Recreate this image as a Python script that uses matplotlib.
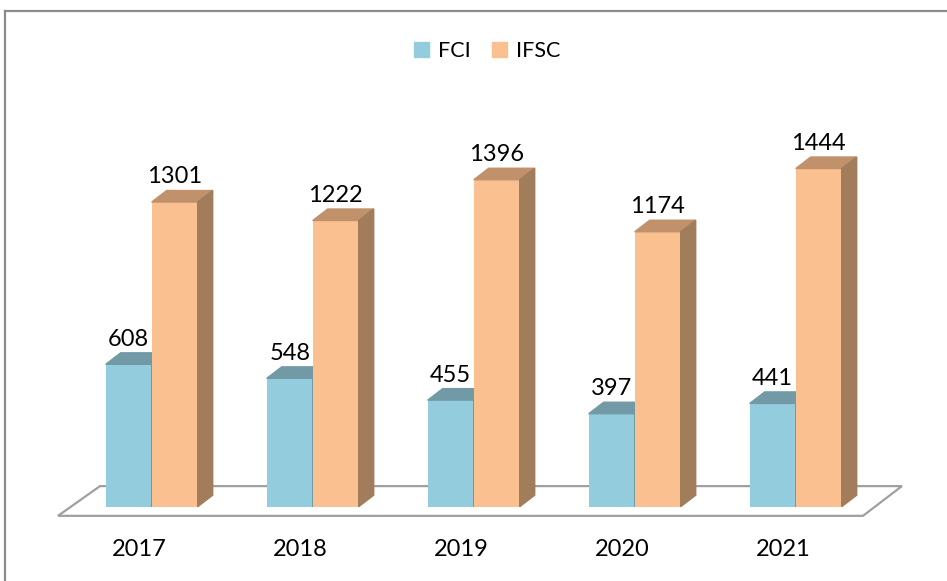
import matplotlib.pyplot as plt
from matplotlib.patches import Polygon, Patch
from matplotlib.lines import Line2D
import numpy as np

years = ["2017", "2018", "2019", "2020", "2021"]
fci = [608, 548, 455, 397, 441]
ifsc = [1301, 1222, 1396, 1174, 1444]

FCI_FRONT, FCI_TOP = "#93CDDD", "#729AA6"
IFSC_FRONT, IFSC_TOP, IFSC_SIDE = "#FAC090", "#C0916B", "#A27D5C"
EDGE = "#A0A0A0"

plt.rcParams["font.family"] = ["Lato", "DejaVu Sans"]

W, H = 947, 581
fig = plt.figure(figsize=(W / 100, H / 100), dpi=100)
ax = fig.add_axes([0, 0, 1, 1])

px_x = 161.0          # px per category
px_y = 0.2342         # px per unit value
x0_px, base_px = 151.7, 506.7
ax.set_xlim(-x0_px / px_x, (W - x0_px) / px_x)
ax.set_ylim(-(H - base_px) / px_y, base_px / px_y)
ax.axis("off")

bw = 46 / px_x        # bar width
ddx = 15 / px_x       # depth offset
ddy = 11.5 / px_y

# floor
fx = [-0.582, 4.418, 4.660, -0.321]
fy = [-39, -39, 88, 88]
ax.add_patch(Polygon(list(zip(fx, fy)), closed=True, facecolor="white",
                     edgecolor=EDGE, lw=1.6, zorder=1))

x = np.arange(len(years))


def bar3d(left, val, front, top, side, z):
    ax.bar(left, val, width=bw, align="edge", color=front, zorder=z)
    r = left + bw
    ax.add_patch(Polygon([(left, val), (r, val), (r + ddx, val + ddy),
                          (left + ddx, val + ddy)], color=top, zorder=z))
    ax.add_patch(Polygon([(r, 0), (r, val), (r + ddx, val + ddy),
                          (r + ddx, ddy)], color=side, zorder=z))


for i in x:
    bar3d(i - bw, fci[i], FCI_FRONT, FCI_TOP, FCI_TOP, 2)
    bar3d(i, ifsc[i], IFSC_FRONT, IFSC_TOP, IFSC_SIDE, 3)
    ax.text(i - bw / 2, fci[i] + ddy + 30, str(fci[i]), ha="center",
            va="baseline", fontsize=17, color="black", zorder=5)
    ax.text(i + bw / 2, ifsc[i] + ddy + 30, str(ifsc[i]), ha="center",
            va="baseline", fontsize=17, color="black", zorder=5)
    ax.text(i - 12 / px_x, -(550 - base_px) / px_y, years[i], ha="center",
            va="center", fontsize=17, color="black")

# chart frame
fig.add_artist(Line2D([5 / W, 5 / W], [0, 1 - 11 / H], color="#8C8C8C",
                      lw=1.6, transform=fig.transFigure))
fig.add_artist(Line2D([5 / W, 1], [1 - 11 / H, 1 - 11 / H], color="#8C8C8C",
                      lw=1.6, transform=fig.transFigure))

handles = [Patch(color=FCI_FRONT, label="FCI"), Patch(color=IFSC_FRONT, label="IFSC")]
ax.legend(handles=handles, ncol=2, frameon=False, loc="center",
          bbox_to_anchor=(487 / W, 1 - 51 / H), fontsize=15.5, handlelength=0.7,
          handleheight=0.7, handletextpad=0.4, columnspacing=1.0)

fig.savefig("out.png", dpi=100)
